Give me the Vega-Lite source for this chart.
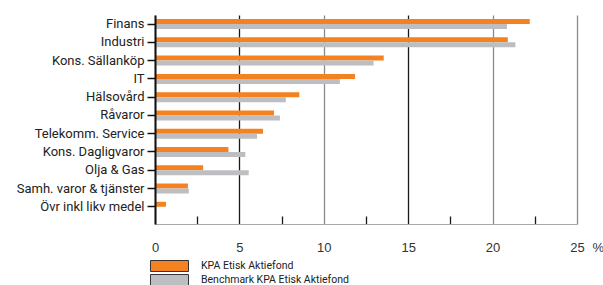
{
  "$schema": "https://vega.github.io/schema/vega-lite/v6.json",
  "width": 422,
  "height": 209,
  "autosize": {"type": "none"},
  "padding": {"left": 155, "top": 15, "right": 26, "bottom": 61},
  "background": "white",
  "config": {"view": {"stroke": null}},
  "data": {
    "values": [
      {"category": "Finans", "series": "KPA Etisk Aktiefond", "value": 22.2},
      {"category": "Finans", "series": "Benchmark KPA Etisk Aktiefond", "value": 20.85},
      {"category": "Industri", "series": "KPA Etisk Aktiefond", "value": 20.9},
      {"category": "Industri", "series": "Benchmark KPA Etisk Aktiefond", "value": 21.35},
      {"category": "Kons. Sällanköp", "series": "KPA Etisk Aktiefond", "value": 13.55},
      {"category": "Kons. Sällanköp", "series": "Benchmark KPA Etisk Aktiefond", "value": 12.95},
      {"category": "IT", "series": "KPA Etisk Aktiefond", "value": 11.85},
      {"category": "IT", "series": "Benchmark KPA Etisk Aktiefond", "value": 10.95},
      {"category": "Hälsovård", "series": "KPA Etisk Aktiefond", "value": 8.55},
      {"category": "Hälsovård", "series": "Benchmark KPA Etisk Aktiefond", "value": 7.75},
      {"category": "Råvaror", "series": "KPA Etisk Aktiefond", "value": 7.05},
      {"category": "Råvaror", "series": "Benchmark KPA Etisk Aktiefond", "value": 7.4},
      {"category": "Telekomm. Service", "series": "KPA Etisk Aktiefond", "value": 6.4},
      {"category": "Telekomm. Service", "series": "Benchmark KPA Etisk Aktiefond", "value": 6.05},
      {"category": "Kons. Dagligvaror", "series": "KPA Etisk Aktiefond", "value": 4.35},
      {"category": "Kons. Dagligvaror", "series": "Benchmark KPA Etisk Aktiefond", "value": 5.35},
      {"category": "Olja & Gas", "series": "KPA Etisk Aktiefond", "value": 2.85},
      {"category": "Olja & Gas", "series": "Benchmark KPA Etisk Aktiefond", "value": 5.55},
      {"category": "Samh. varor & tjänster", "series": "KPA Etisk Aktiefond", "value": 1.95},
      {"category": "Samh. varor & tjänster", "series": "Benchmark KPA Etisk Aktiefond", "value": 2.0},
      {"category": "Övr inkl likv medel", "series": "KPA Etisk Aktiefond", "value": 0.65},
      {"category": "Övr inkl likv medel", "series": "Benchmark KPA Etisk Aktiefond", "value": 0}
    ]
  },
  "mark": {"type": "bar"},
  "encoding": {
    "y": {
      "field": "category",
      "type": "nominal",
      "sort": null,
      "scale": {"paddingInner": 0.453, "paddingOuter": 0.446, "align": 0.25},
      "axis": {
        "title": null,
        "zindex": 1,
        "domainColor": "#111",
        "domainWidth": 2,
        "tickColor": "#111",
        "tickWidth": 1.5,
        "tickSize": 8,
        "labelPadding": 3,
        "labelFont": "Roboto",
        "labelFontSize": 13,
        "labelColor": "#222",
        "grid": false
      }
    },
    "yOffset": {
      "field": "series",
      "sort": ["KPA Etisk Aktiefond", "Benchmark KPA Etisk Aktiefond"]
    },
    "x": {
      "field": "value",
      "type": "quantitative",
      "scale": {"domain": [0, 25], "nice": false},
      "axis": {
        "title": "%",
        "titleX": 437,
        "titleY": 17,
        "titleAlign": "left",
        "titleBaseline": "top",
        "titleFont": "Liberation Sans",
        "titleFontSize": 13,
        "titleFontWeight": "normal",
        "titleColor": "#333",
        "values": [0, 2.5, 5, 7.5, 10, 12.5, 15, 17.5, 20, 22.5, 25],
        "grid": true,
        "gridColor": {"condition": {"test": "datum.value == 5 || datum.value == 15 || datum.value % 5 != 0", "value": "#1a1a1a"}, "value": "#8a8a8a"},
        "gridDash": {"condition": {"test": "datum.value % 5 != 0", "value": [8, 400]}, "value": []},
        "gridWidth": 1.3,
        "labelExpr": "datum.value % 5 == 0 ? datum.label : ''",
        "labelOverlap": false,
        "labelFlush": false,
        "ticks": false,
        "domainColor": "#aaa",
        "labelPadding": 17,
        "labelFont": "Liberation Sans",
        "labelFontSize": 13,
        "labelColor": "#333"
      }
    },
    "color": {
      "field": "series",
      "type": "nominal",
      "scale": {
        "domain": ["KPA Etisk Aktiefond", "Benchmark KPA Etisk Aktiefond"],
        "range": ["#F58220", "#BDBEC1"]
      },
      "legend": {
        "title": null,
        "orient": "none",
        "legendX": 8.5,
        "legendY": 245,
        "symbolType": "M-3.455,-1H3.455V1H-3.455Z",
        "symbolSize": 121,
        "symbolStrokeColor": "#333",
        "symbolStrokeWidth": 1,
        "symbolOpacity": 1,
        "labelFont": "Roboto",
        "labelFontSize": 10.5,
        "labelColor": "#222",
        "labelOffset": 25.5,
        "rowPadding": -4
      }
    }
  }
}
